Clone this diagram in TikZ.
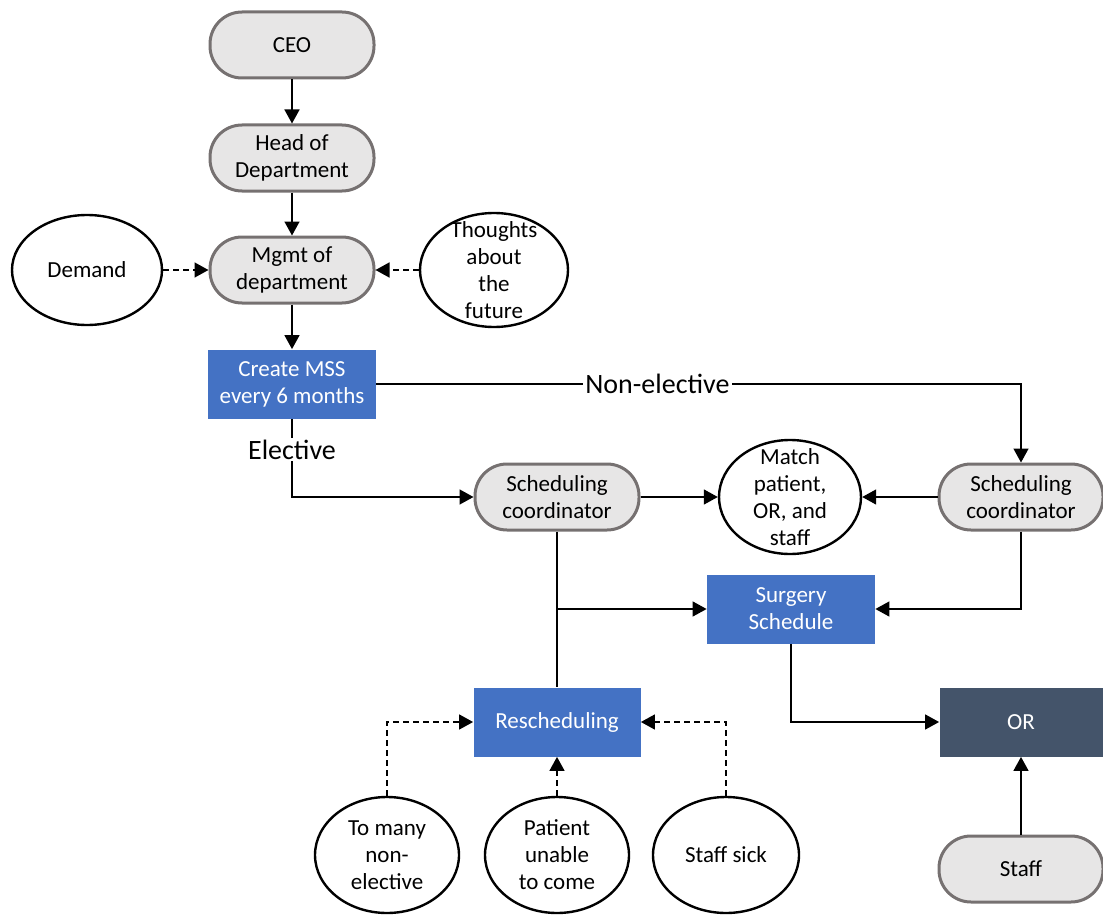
\documentclass[tikz,border=0pt]{standalone}
\usepackage{fontspec}
\setmainfont{Carlito}
\usetikzlibrary{shapes.geometric,arrows.meta}
\definecolor{stadfill}{HTML}{E7E6E6}
\definecolor{staddraw}{HTML}{767171}
\definecolor{taskblue}{HTML}{4472C4}
\definecolor{ordark}{HTML}{44546A}

\begin{document}
\begin{tikzpicture}[%
    x=0.5pt, y=-0.5pt,
    every node/.style={%
        font=\fontsize{11.5}{13.5}\selectfont,
        align=center,
        inner sep=2pt,
    },
    actor/.style={%
        draw=staddraw,
        line width=1.5pt,
        fill=stadfill,
        rounded corners=16pt,
        minimum width=82pt,
        minimum height=33pt,
    },
    task/.style={%
        fill=taskblue,
        text=white,
        minimum width=84pt,
        minimum height=34.5pt,
    },
    bubble/.style={%
        draw=black,
        line width=1.2pt,
        ellipse,
        inner sep=0pt,
        minimum width=73pt,
        minimum height=57pt,
    },
    flow/.style={-{Triangle[length=7pt,width=7.5pt]}, line width=0.75pt},
    influence/.style={flow, dash pattern=on 3pt off 2pt},
    tag/.style={fill=white, inner sep=1pt, font=\fontsize{14}{16}\selectfont},
]
\useasboundingbox (0,0) rectangle (1103,915);

% hierarchy
\node[actor] (ceo)  at (292,45)  {CEO};
\node[actor] (hod)  at (292,158) {Head of\\Department};
\node[actor] (mgmt) at (292,270) {Mgmt of\\department};
\node[task]  (mss)  at (292,384) {Create MSS\\every 6 months};

% inputs to management
\node[bubble, minimum width=75pt, minimum height=55pt,
      label={center:Demand}] (demand) at (87,270) {};
\node[bubble, minimum width=74pt,
      label={center:Thoughts\\about\\the\\future}] (thoughts) at (494,270) {};

% scheduling
\node[actor] (sc1) at (557,497)  {Scheduling\\coordinator};
\node[actor] (sc2) at (1021,497) {Scheduling\\coordinator};
\node[bubble, minimum width=71pt,
      label={center:Match\\patient,\\OR, and\\staff}] (match) at (790,497) {};
\node[task] (surgery) at (791,609) {Surgery\\Schedule};
\node[task, minimum width=83.5pt] (resched) at (557,722) {Rescheduling};
\node[task, fill=ordark, minimum width=81.5pt] (or) at (1021,722) {OR};
\node[actor] (staff) at (1021,869) {Staff};

% disruptions
\node[bubble, minimum width=72pt, minimum height=58pt,
      label={center:To many\\non-\\elective}] (tomany) at (387,855) {};
\node[bubble, minimum width=72pt, minimum height=58pt,
      label={center:Patient\\unable\\to come}] (patient) at (557,855) {};
\node[bubble, minimum width=73pt, minimum height=58pt,
      label={center:Staff sick}] (sick) at (726,855) {};

% connectors
\draw[flow] (ceo) -- (hod);
\draw[flow] (hod) -- (mgmt);
\draw[flow] (mgmt) -- (mss);
\draw[influence] (demand) -- (mgmt);
\draw[influence] (thoughts) -- (mgmt);

\draw[flow] (mss.east) -| node[tag, pos=0.218] {Non-elective} (sc2.north);
\draw[flow] (mss.south) |- node[tag, pos=0.196] {Elective} (sc1.west);

\draw[flow] (sc1) -- (match);
\draw[flow] (sc2) -- (match);

\draw[line width=0.75pt] (sc1.south) -- (resched.north);
\coordinate (split) at (sc1.south |- surgery.west);
\draw[flow] (split) -- (surgery.west);
\draw[flow] (sc2.south) |- (surgery.east);
\draw[flow] (surgery.south) |- (or.west);
\draw[flow] (staff) -- (or);

\draw[influence] (tomany.north) |- (resched.west);
\draw[influence] (patient) -- (resched);
\draw[influence] (sick.north) |- (resched.east);

\end{tikzpicture}
\end{document}
